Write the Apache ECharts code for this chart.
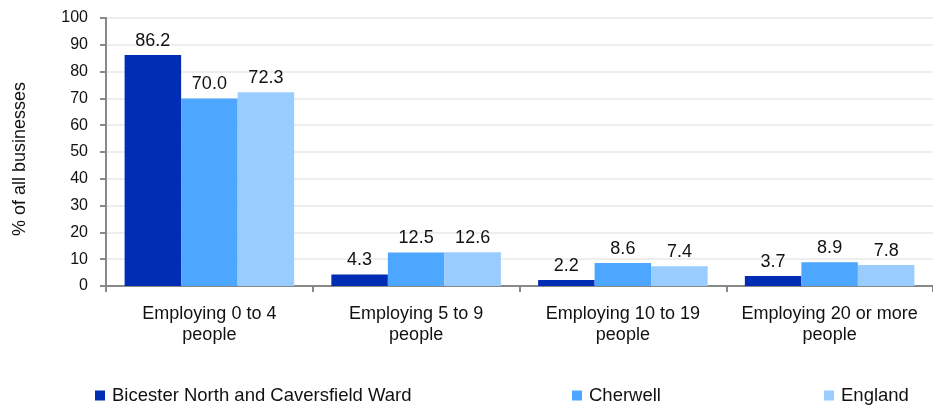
<!DOCTYPE html>
<html><head><meta charset="utf-8">
<script src="https://cdn.jsdelivr.net/npm/echarts@6/dist/echarts.min.js"></script>
<style>html,body{margin:0;padding:0;background:#fff}#c{width:933px;height:405px}</style>
</head><body><div id="c"></div>
<script>
const categories = ['Employing 0 to 4\npeople', 'Employing 5 to 9\npeople', 'Employing 10 to 19\npeople', 'Employing 20 or more\npeople'];
const seriesNames = ['Bicester North and Caversfield Ward', 'Cherwell', 'England'];
const bicester = [86.2, 4.3, 2.2, 3.7];
const cherwell = [70.0, 12.5, 8.6, 8.9];
const england = [72.3, 12.6, 7.4, 7.8];
const yTicks = [0, 10, 20, 30, 40, 50, 60, 70, 80, 90, 100];
const yTitle = '% of all businesses';

const colors = ['#002DB3', '#4DA6FF', '#99CCFF'];
const font = 'Liberation Sans, Arial, sans-serif';
const chart = echarts.init(document.getElementById('c'));
const mk = (name, data, i) => ({
  name, type: 'bar', data, barGap: 0, barCategoryGap: '18%',
  itemStyle: { color: colors[i] },
  label: { show: true, position: 'top', formatter: p => p.value.toFixed(1), color: '#111', fontSize: 18, fontFamily: font, distance: 5 }
});
const legendBase = { orient: 'horizontal', top: 381, itemWidth: 10, itemHeight: 10, itemGap: 6, icon: 'rect',
  textStyle: { fontSize: 18.5, fontFamily: font, color: '#111', padding: [0, 0, 0, 2] } };
chart.setOption({
  animation: false,
  color: colors,
  legend: [
    Object.assign({}, legendBase, { left: 90, data: [seriesNames[0]] }),
    Object.assign({}, legendBase, { left: 567, data: [seriesNames[1]] }),
    Object.assign({}, legendBase, { left: 819, data: [seriesNames[2]] })
  ],
  graphic: [{
    type: 'text', x: 20, y: 159, rotation: Math.PI / 2,
    style: { text: yTitle, fontSize: 18, fontFamily: font, fill: '#111', align: 'center', verticalAlign: 'middle' }
  }],
  grid: { left: 106, top: 18, width: 829, bottom: 119, containLabel: false },
  xAxis: {
    type: 'category', data: categories,
    axisLine: { lineStyle: { color: '#888', width: 2 } },
    axisTick: { show: true, interval: 0, length: 6, lineStyle: { color: '#888', width: 2 } },
    axisLabel: { interval: 0, fontSize: 18, fontFamily: font, color: '#111', margin: 18, lineHeight: 21 }
  },
  yAxis: {
    type: 'value', min: 0, max: 100, interval: 10,
    axisLine: { show: true, lineStyle: { color: '#888', width: 2 } },
    axisTick: { show: true, length: 6, lineStyle: { color: '#888', width: 2 } },
    axisLabel: { fontSize: 16, fontFamily: font, color: '#111', margin: 18,
      formatter: v => yTicks.includes(v) ? String(v) : '' },
    splitLine: { show: true, lineStyle: { color: '#e8e8e8', width: 1.5 } }
  },
  series: [mk(seriesNames[0], bicester, 0), mk(seriesNames[1], cherwell, 1), mk(seriesNames[2], england, 2)]
});
</script></body></html>
